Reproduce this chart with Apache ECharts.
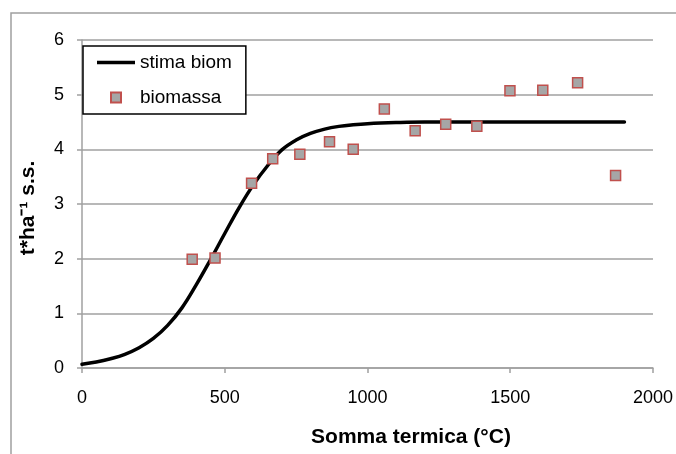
<!DOCTYPE html>
<html>
<head>
<meta charset="utf-8">
<script src="https://cdn.jsdelivr.net/npm/echarts@6/dist/echarts.min.js"></script>
<style>
html,body{margin:0;padding:0;background:#fff;}
#chart{width:676px;height:454px;}
</style>
</head>
<body>
<div id="chart"></div>
<script>
// Fitted curve "stima biom"
var curveX = [0, 50, 100, 150, 200, 250, 300, 350, 400, 450, 500, 550, 600, 650, 700, 750, 800, 850, 900, 950, 1000, 1100, 1200, 1400, 1600, 1900];
var curveY = [0.07, 0.11, 0.17, 0.25, 0.37, 0.54, 0.78, 1.10, 1.52, 1.98, 2.46, 2.93, 3.35, 3.70, 3.99, 4.17, 4.29, 4.37, 4.42, 4.45, 4.47, 4.49, 4.50, 4.50, 4.50, 4.50];
// Observed "biomassa"
var obsX = [386, 466, 594, 668, 763, 867, 950, 1059, 1167, 1274, 1383, 1499, 1614, 1736, 1869];
var obsY = [1.99, 2.01, 3.38, 3.83, 3.91, 4.14, 4.00, 4.74, 4.34, 4.46, 4.42, 5.07, 5.08, 5.22, 3.52];
var xTicks = [0, 500, 1000, 1500, 2000];
var yTicks = [0, 1, 2, 3, 4, 5, 6];
var seriesNames = ['stima biom', 'biomassa'];
var xTitle = 'Somma termica (°C)';
var yTitle = 't*ha⁻¹ s.s.';

var curveData = curveX.map(function (x, i) { return [x, curveY[i]]; });
var obsData = obsX.map(function (x, i) { return [x, obsY[i]]; });

var FONT = '"Liberation Sans", Arial, sans-serif';
var GRAY = '#a0a0a0';

var chart = echarts.init(document.getElementById('chart'), null, {renderer: 'canvas'});
chart.setOption({
  animation: false,
  backgroundColor: '#fff',
  textStyle: {fontFamily: FONT},
  grid: {left: 82, top: 40, width: 571, height: 328, containLabel: false},
  legend: {
    data: [
      {name: seriesNames[0], icon: 'path://M0,0H38V3.5H0Z'},
      {name: seriesNames[1], icon: 'path://M0,0H10V10H0Z'}
    ],
    symbolKeepAspect: true,
    orient: 'vertical',
    left: 83, top: 46,
    padding: [7, 14, 7, 14],
    itemGap: 16,
    itemWidth: 38,
    itemHeight: 10,
    backgroundColor: '#fff',
    borderColor: '#000',
    borderWidth: 1.5,
    borderRadius: 0,
    textStyle: {fontSize: 19, color: '#000', fontFamily: FONT}
  },
  xAxis: {
    type: 'value',
    min: xTicks[0], max: xTicks[xTicks.length - 1], interval: 500,
    axisLine: {show: true, lineStyle: {color: GRAY, width: 1.5}},
    axisTick: {show: true, length: 5, lineStyle: {color: GRAY, width: 1.5}},
    splitLine: {show: false},
    axisLabel: {fontSize: 18, color: '#000', margin: 21, fontFamily: FONT,
      formatter: function (v) { return String(v); }}
  },
  yAxis: {
    type: 'value',
    min: yTicks[0], max: yTicks[yTicks.length - 1], interval: 1,
    axisLine: {show: true, lineStyle: {color: GRAY, width: 1.5}},
    axisTick: {show: true, length: 5, lineStyle: {color: GRAY, width: 1.5}},
    splitLine: {show: true, lineStyle: {color: GRAY, width: 1.5}},
    axisLabel: {fontSize: 18, color: '#000', margin: 18, fontFamily: FONT,
      formatter: function (v) { return String(v); }}
  },
  series: [
    {
      name: seriesNames[0],
      type: 'line',
      data: curveData,
      smooth: 0.4,
      symbol: 'none',
      showSymbol: false,
      lineStyle: {color: '#000', width: 3.5, cap: 'round'},
      itemStyle: {color: '#000', borderWidth: 0},
      z: 2
    },
    {
      name: seriesNames[1],
      type: 'scatter',
      data: obsData,
      symbol: 'rect',
      symbolSize: 10,
      itemStyle: {color: '#a6a6a6', borderColor: '#c0504d', borderWidth: 1.5, opacity: 1},
      z: 3
    }
  ],
  graphic: [
    {
      type: 'rect', silent: true, z: -1,
      shape: {x: 11, y: 13, width: 720, height: 520},
      style: {fill: 'none', stroke: GRAY, lineWidth: 1.5}
    },
    {
      type: 'text', silent: true,
      x: 411, y: 437,
      style: {text: xTitle, font: 'bold 21px ' + FONT, fill: '#000', textAlign: 'center', textVerticalAlign: 'middle'}
    },
    {
      type: 'text', silent: true,
      x: 28, y: 208, rotation: Math.PI / 2,
      style: {text: yTitle, font: 'bold 21px ' + FONT, fill: '#000', textAlign: 'center', textVerticalAlign: 'middle'}
    }
  ]
});
</script>
</body>
</html>
